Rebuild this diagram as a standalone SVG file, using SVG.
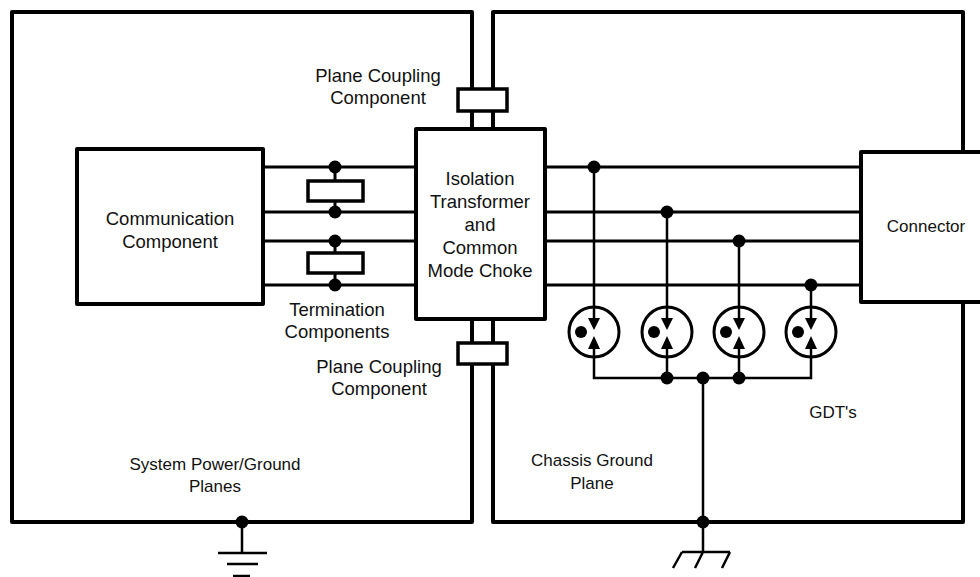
<svg xmlns="http://www.w3.org/2000/svg" width="980" height="577" viewBox="0 0 980 577">
<style>
.plane{fill:none;stroke:#000;stroke-width:4;stroke-linejoin:round}
.box{fill:#fff;stroke:#000;stroke-width:4;stroke-linejoin:round}
.res{fill:#fff;stroke:#000;stroke-width:3.5}
.w{fill:none;stroke:#000;stroke-width:3}
.t{fill:none;stroke:#000;stroke-width:2.5}
.dot{fill:#000}
.gdt{fill:none;stroke:#000;stroke-width:3}
text{font-family:"Liberation Sans",Arial,sans-serif;font-size:18.5px;fill:#111;text-anchor:middle}
.s{font-size:17px}
</style>
<rect width="980" height="577" fill="#fff"/>
<g id="planes">
<rect id="system-plane" class="plane" x="12" y="12" width="460" height="510"/>
<rect id="chassis-plane" class="plane" x="493" y="12" width="470" height="510"/>
</g>
<g id="connectors">
<path class="w" d="M263 167H416M263 212H416M263 241H416M263 285H416"/>
<path class="w" d="M545 167H861M545 212H861M545 241H861M545 285H861"/>
<path class="w" d="M335 167V212M335 241V285"/>
<path class="t" d="M594 167V319M667 212V319M739 241V319M811 285V319"/>
<path class="t" d="M594 348V378H811V348M667 348V378M739 348V378"/>
<path class="t" d="M703 378V552"/>
<circle class="dot" cx="335" cy="167" r="6.5"/>
<circle class="dot" cx="335" cy="212" r="6.5"/>
<circle class="dot" cx="335" cy="241" r="6.5"/>
<circle class="dot" cx="335" cy="285" r="6.5"/>
<circle class="dot" cx="594" cy="167" r="6.5"/>
<circle class="dot" cx="667" cy="212" r="6.5"/>
<circle class="dot" cx="739" cy="241" r="6.5"/>
<circle class="dot" cx="811" cy="285" r="6.5"/>
<circle class="dot" cx="667" cy="378" r="6.5"/>
<circle class="dot" cx="739" cy="378" r="6.5"/>
<circle class="dot" cx="703" cy="378" r="6.5"/>
<circle class="dot" cx="703" cy="522" r="6.5"/>
<circle class="dot" cx="242" cy="522" r="6.5"/>
<path class="t" d="M242 522V553M218 553H267M227 564H258M233 576H250"/>
<path class="t" d="M682 552H730M682 552L673 568M703 552L695 568M730 552L722 568"/>
</g>
<g id="comm">
<rect class="box" x="77" y="149" width="186" height="155"/>
<text x="170" y="225">Communication</text>
<text x="170" y="248">Component</text>
</g>
<g id="termination">
<rect class="res" x="308" y="181" width="55" height="20"/>
<rect class="res" x="308" y="253" width="55" height="20"/>
<text x="337" y="316">Termination</text>
<text x="337" y="338">Components</text>
</g>
<g id="coupling-top">
<rect class="res" x="458" y="89" width="49" height="22"/>
<text x="378" y="82">Plane Coupling</text>
<text x="378" y="104">Component</text>
</g>
<g id="coupling-bottom">
<rect class="res" x="458" y="343" width="49" height="21"/>
<text x="379" y="373">Plane Coupling</text>
<text x="379" y="395">Component</text>
</g>
<g id="isolation">
<rect class="box" x="416" y="129" width="129" height="190"/>
<text x="480" y="185">Isolation</text>
<text x="480" y="208">Transformer</text>
<text x="480" y="231">and</text>
<text x="480" y="254">Common</text>
<text x="480" y="277">Mode Choke</text>
</g>
<g id="connector">
<rect class="box" x="861" y="152" width="130" height="150"/>
<text class="s" x="926" y="232">Connector</text>
</g>
<g id="gdts">
<g id="gdt1">
<circle class="gdt" cx="594" cy="332" r="25"/>
<path class="dot" d="M588 318H600L594 330ZM594 336L600 349H588Z"/>
<circle class="dot" cx="581" cy="332" r="6"/>
</g>
<g id="gdt2">
<circle class="gdt" cx="667" cy="332" r="25"/>
<path class="dot" d="M661 318H673L667 330ZM667 336L673 349H661Z"/>
<circle class="dot" cx="654" cy="332" r="6"/>
</g>
<g id="gdt3">
<circle class="gdt" cx="739" cy="332" r="25"/>
<path class="dot" d="M733 318H745L739 330ZM739 336L745 349H733Z"/>
<circle class="dot" cx="726" cy="332" r="6"/>
</g>
<g id="gdt4">
<circle class="gdt" cx="811" cy="332" r="25"/>
<path class="dot" d="M805 318H817L811 330ZM811 336L817 349H805Z"/>
<circle class="dot" cx="798" cy="332" r="6"/>
</g>
<text class="s" x="833" y="418">GDT's</text>
</g>
<g id="labels">
<text class="s" x="215" y="470">System Power/Ground</text>
<text class="s" x="215" y="492">Planes</text>
<text class="s" x="592" y="466">Chassis Ground</text>
<text class="s" x="592" y="489">Plane</text>
</g>
</svg>
